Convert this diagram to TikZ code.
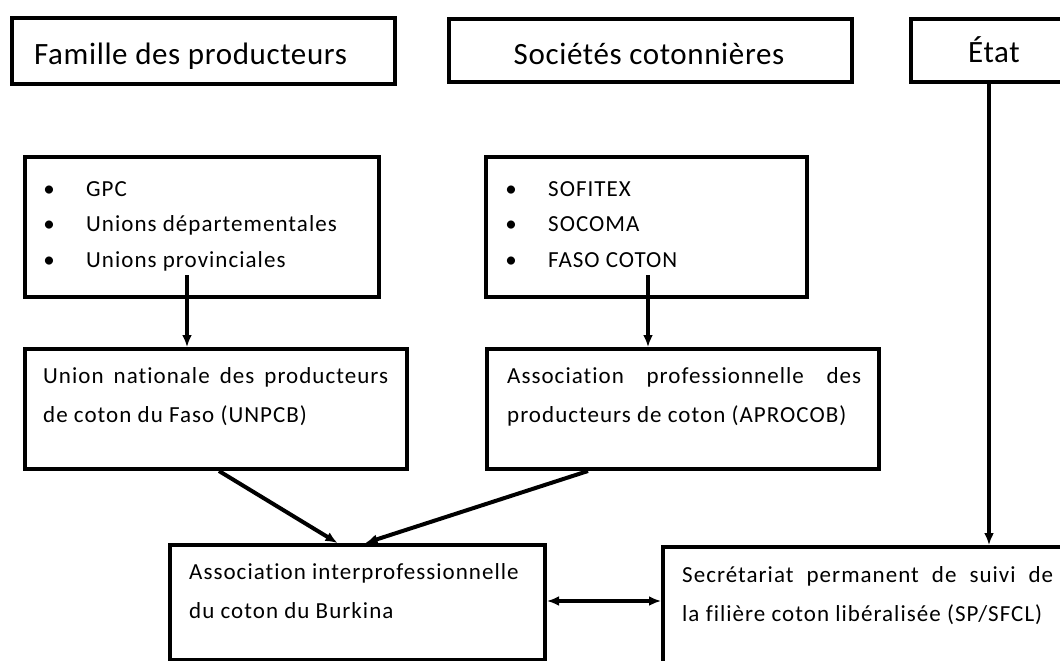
\documentclass[tikz,border=0pt]{standalone}
\usepackage{fontspec}
\setmainfont{Carlito}[Ligatures=NoCommon]
\usetikzlibrary{arrows.meta}
\newcommand\blt{\makebox[0pt]{\textbullet}\hspace{37pt}}
\begin{document}
\begin{tikzpicture}[x=1pt,y=-1pt,
  box/.style={draw, line width=4pt, rectangle, inner sep=0pt, anchor=north west},
  body/.style={font=\fontsize{23}{39}\selectfont\addfontfeatures{LetterSpace=4.5}, inner sep=0pt, anchor=base west, align=left},
  list/.style={font=\fontsize{23}{35.5}\selectfont\addfontfeatures{LetterSpace=4.5}, inner sep=0pt, anchor=base west, align=left},
  title/.style={font=\fontsize{31}{36}\selectfont\addfontfeatures{LetterSpace=2}, inner sep=0pt, anchor=base west},
  conn/.style={line width=4pt, -{Latex[length=12pt,width=10pt]}},
  conn2/.style={line width=4pt, {Latex[length=12pt,width=10pt]}-{Latex[length=12pt,width=10pt]}},
]
\useasboundingbox (0,0) rectangle (1060,661);
\clip (0,0) rectangle (1060,661);
\fill[white] (0,0) rectangle (1060,661);

% top row
\node[box, minimum width=383pt, minimum height=66pt] (fam) at (10,16) {};
\node[title] (famT) at (34,64) {Famille des producteurs};
\node[box, minimum width=403pt, minimum height=63pt] (soc) at (447,17) {};
\node[title, anchor=base] (socT) at (649,64) {Sociétés cotonnières};
\node[box, minimum width=170pt, minimum height=63pt] (etat) at (909,17) {};
\node[title] (etatT) at (968,63) {État};

% lists (base anchor = last line)
\node[box, minimum width=354pt, minimum height=140pt] (gpc) at (23,155) {};
\node[list] (gpcT) at (49,267) {\blt GPC\\\blt Unions départementales\\\blt Unions provinciales};
\node[box, minimum width=321pt, minimum height=140pt] (sof) at (484,155) {};
\node[list] (sofT) at (511,267) {\blt SOFITEX\\\blt SOCOMA\\\blt FASO COTON};

% associations
\node[box, minimum width=382pt, minimum height=120pt] (unpcb) at (23,347) {};
\node[body] (unpcbT) at (43,422) {\makebox[345pt][s]{Union nationale des producteurs}\\de coton du Faso (UNPCB)};
\node[box, minimum width=392pt, minimum height=120pt] (apro) at (485,347) {};
\node[body] (aproT) at (507,422) {\makebox[354pt][s]{Association professionnelle des}\\producteurs de coton (APROCOB)};

% bottom
\node[box, minimum width=375pt, minimum height=115pt] (aic) at (168,543) {};
\node[body] (aicT) at (189,618) {Association interprofessionnelle\\du coton du Burkina};
\node[box, minimum width=430pt, minimum height=140pt] (sp) at (661,545) {};
\node[body] (spT) at (682,621) {\makebox[371pt][s]{Secrétariat permanent de suivi de}\\la filière coton libéralisée (SP/SFCL)};

% connectors
\coordinate (g1) at (187,275);
\draw[conn] (g1) -- (g1 |- unpcb.north);
\coordinate (s1) at (648,275);
\draw[conn] (s1) -- (s1 |- apro.north);
\draw[conn] ([xshift=-7pt]etat.south) -- ([xshift=-7pt]etat.south |- sp.north);
\draw[conn] ([xshift=3pt]unpcb.south) -- ([xshift=-20pt]aic.north);
\draw[conn] ([xshift=-95pt]apro.south) -- ([xshift=8pt]aic.north);
\draw[conn2] ([yshift=1.5pt]aic.east) -- ([yshift=1.5pt]aic.east -| sp.west);
\end{tikzpicture}
\end{document}
